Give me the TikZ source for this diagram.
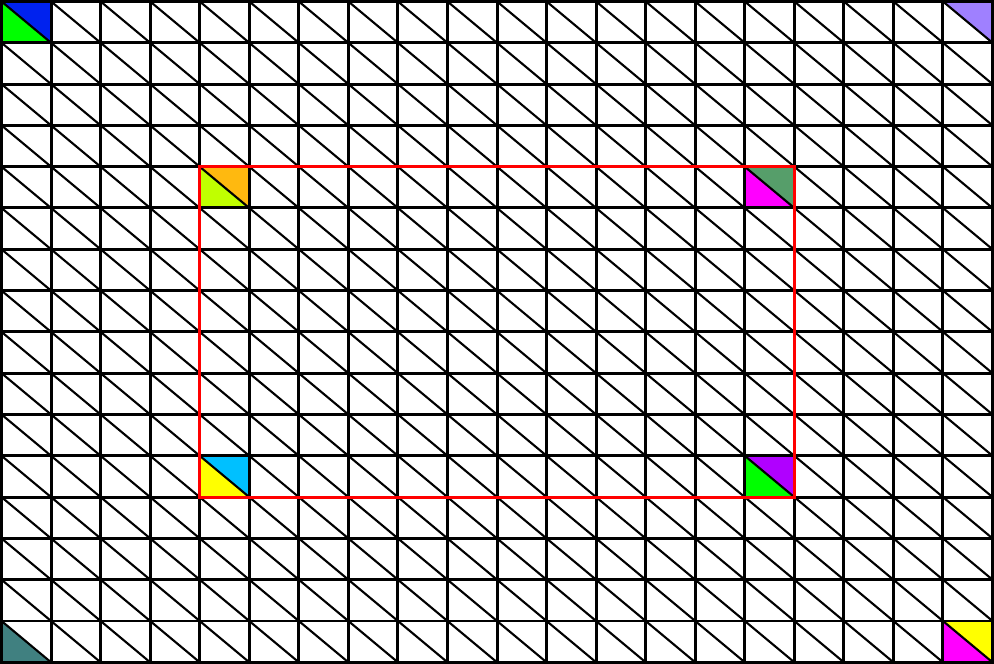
\documentclass[tikz,border=0pt]{standalone}
\usepackage{tikz}
\definecolor{cblue}{HTML}{0022EE}
\definecolor{cgreen}{HTML}{00FF00}
\definecolor{clilac}{HTML}{9F80FF}
\definecolor{corange}{HTML}{FFB90F}
\definecolor{clime}{HTML}{C0FF00}
\definecolor{csage}{HTML}{569E6A}
\definecolor{cmagenta}{HTML}{FF00FF}
\definecolor{csky}{HTML}{00C0FF}
\definecolor{cyellow}{HTML}{FFFF00}
\definecolor{cviolet}{HTML}{B000FF}
\definecolor{cteal}{HTML}{408080}
\tikzset{
  gridline/.style={draw=black, line width=0.85pt, line cap=rect},
  diagline/.style={draw=black, line width=0.6pt},
  region/.style={draw=red, line width=0.85pt, line cap=rect}
}
% half cells, (#1,#2) is the top left corner
\newcommand{\urtri}[3]{\fill[#3] (#1,#2) -- ++(1,0) -- ++(0,-1) -- cycle;}
\newcommand{\lltri}[3]{\fill[#3] (#1,#2) -- ++(0,-1) -- ++(1,0) -- cycle;}

\begin{document}
\begin{tikzpicture}[x=0.4955cm, y=0.413cm]
\useasboundingbox (-0.0303,-0.0363) rectangle (20.0303,16.0363);
% coloured triangles
\urtri{0}{16}{cblue}   \lltri{0}{16}{cgreen}
\urtri{19}{16}{clilac}
\urtri{4}{12}{corange} \lltri{4}{12}{clime}
\urtri{15}{12}{csage}  \lltri{15}{12}{cmagenta}
\urtri{4}{5}{csky}     \lltri{4}{5}{cyellow}
\urtri{15}{5}{cviolet} \lltri{15}{5}{cgreen}
\lltri{0}{1}{cteal}
\urtri{19}{1}{cyellow} \lltri{19}{1}{cmagenta}
% diagonals
\foreach \i in {0,...,19}
  \foreach \j in {1,...,16}
    \draw[diagline] (\i,\j) -- ++(1,-1);
% grid
\foreach \i in {0,...,20}
  \draw[gridline] (\i,0) -- (\i,16);
\foreach \j in {0,...,16}
  \draw[gridline] (0,\j) -- (20,\j);
% red window
\draw[region] (4,12) rectangle (16,4);
\end{tikzpicture}
\end{document}
